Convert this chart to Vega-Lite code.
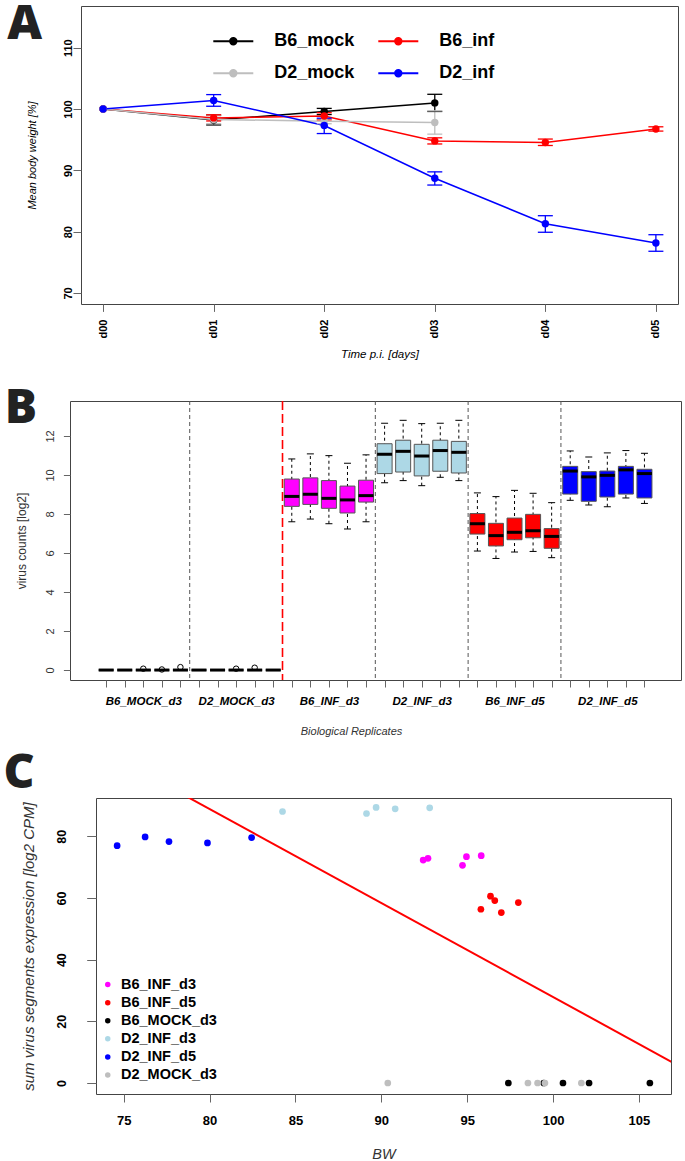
{
  "$schema": "https://vega.github.io/schema/vega-lite/v6.json",
  "padding": {"left": 0, "top": 0, "right": 0, "bottom": 0},
  "background": "white",
  "config": {
    "font": "Liberation Sans",
    "view": {"stroke": "#444", "strokeWidth": 1},
    "axis": {"grid": false, "domain": false, "tickColor": "#666", "labelColor": "#000", "titleColor": "#000", "titleFontWeight": "normal", "labelFont": "Liberation Sans", "titleFont": "Liberation Sans", "labelOverlap": false, "labelFlush": false},
    "axisQuantitative": {"labelOverlap": false},
    "title": {"font": "Open Sans", "fontSize": 48, "fontWeight": 800, "anchor": "start", "frame": "group", "color": "#222"},
    "legend": {"padding": 0, "offset": 0}
  },
  "spacing": 23,
  "resolve": {"scale": {"color": "independent", "fill": "independent"}, "legend": {"color": "independent", "fill": "independent"}},
  "vconcat": [
    {
      "spacing": 0,
      "resolve": {"scale": {"color": "independent"}, "legend": {"color": "independent"}},
      "hconcat": [
        {"width": 4, "height": 1, "data": {"values": []}, "mark": "point", "view": {"stroke": "transparent"}},
        {
          "width": 597,
          "height": 298,
          "title": {"text": "A", "dx": -73.7, "offset": -43.3},
          "data": {"values": [
            {"day": "d00", "group": "B6_mock", "w": 100},
            {"day": "d00", "group": "B6_inf", "w": 100},
            {"day": "d00", "group": "D2_mock", "w": 100},
            {"day": "d00", "group": "D2_inf", "w": 100},
            {"day": "d01", "group": "B6_mock", "w": 98.2, "lo": 97.4, "hi": 99.0},
            {"day": "d01", "group": "D2_mock", "w": 98.3, "lo": 97.6, "hi": 98.9},
            {"day": "d01", "group": "B6_inf", "w": 98.55, "lo": 98.05, "hi": 99.05},
            {"day": "d01", "group": "D2_inf", "w": 101.4, "lo": 100.45, "hi": 102.35},
            {"day": "d02", "group": "B6_mock", "w": 99.6, "lo": 99.1, "hi": 100.1},
            {"day": "d02", "group": "D2_mock", "w": 98.0, "lo": 97.6, "hi": 98.4},
            {"day": "d02", "group": "B6_inf", "w": 98.85, "lo": 98.25, "hi": 99.4},
            {"day": "d02", "group": "D2_inf", "w": 97.3, "lo": 96.0, "hi": 98.5},
            {"day": "d03", "group": "B6_mock", "w": 101.0, "lo": 99.6, "hi": 102.4},
            {"day": "d03", "group": "D2_mock", "w": 97.8, "lo": 95.9, "hi": 99.7},
            {"day": "d03", "group": "B6_inf", "w": 94.8, "lo": 94.3, "hi": 95.3},
            {"day": "d03", "group": "D2_inf", "w": 88.7, "lo": 87.6, "hi": 89.75},
            {"day": "d04", "group": "B6_inf", "w": 94.55, "lo": 94.05, "hi": 95.1},
            {"day": "d04", "group": "D2_inf", "w": 81.3, "lo": 79.9, "hi": 82.6},
            {"day": "d05", "group": "B6_inf", "w": 96.75, "lo": 96.4, "hi": 97.1},
            {"day": "d05", "group": "D2_inf", "w": 78.15, "lo": 76.8, "hi": 79.5}
          ]},
          "encoding": {
            "x": {"field": "day", "type": "ordinal", "scale": {"type": "point", "padding": 0.2},
              "axis": {"title": "Time p.i. [days]", "titleFontStyle": "italic", "titleFontSize": 11.5, "titleY": 50.7, "titleBaseline": "middle",
                "labelAngle": -90, "labelAlign": "right", "labelBaseline": "middle", "labelFontWeight": "bold", "labelFontSize": 11, "tickSize": 7.4, "labelPadding": 7.6}},
            "color": {"field": "group", "type": "nominal",
              "scale": {"domain": ["B6_mock", "B6_inf", "D2_mock", "D2_inf"], "range": ["#000000", "#FF0000", "#BEBEBE", "#0000FF"]},
              "legend": {"orient": "none", "legendX": 135.3, "legendY": 18.3, "columns": 2, "direction": "horizontal", "title": null,
                "symbolType": "M-1.25,0L1.25,0M-0.2,0A0.2,0.2,0,1,1,0.2,0A0.2,0.2,0,1,1,-0.2,0Z",
                "symbolSize": 1024, "symbolStrokeWidth": 2, "labelFont": "Liberation Sans", "labelFontSize": 18, "labelFontWeight": "bold",
                "labelOffset": 24, "columnPadding": 19, "rowPadding": 6, "labelLimit": 200,
                "encode": {"symbols": {"update": {
                  "fill": {"signal": "datum.value === 'B6_mock' ? '#000000' : datum.value === 'B6_inf' ? '#FF0000' : datum.value === 'D2_mock' ? '#BEBEBE' : '#0000FF'"},
                  "stroke": {"signal": "datum.value === 'B6_mock' ? '#000000' : datum.value === 'B6_inf' ? '#FF0000' : datum.value === 'D2_mock' ? '#BEBEBE' : '#0000FF'"},
                  "opacity": {"value": 1}}}}}
            }
          },
          "layer": [
            {"mark": {"type": "line", "strokeWidth": 1.5},
              "encoding": {"y": {"field": "w", "type": "quantitative", "title": "Mean body weight [%]",
                "scale": {"domain": [68.2, 116.8], "nice": false, "zero": false},
                "axis": {"values": [70, 80, 90, 100, 110], "labelAngle": -90, "labelAlign": "center", "labelBaseline": "alphabetic", "labelFontWeight": "bold", "labelFontSize": 11, "tickSize": 8, "labelPadding": 2,
                  "titleX": -48.4, "titleBaseline": "middle", "titleFontStyle": "italic", "titleFontSize": 11}}}},
            {"transform": [{"filter": "isValid(datum.lo)"}], "mark": {"type": "rule", "strokeWidth": 1.3},
              "encoding": {"y": {"field": "lo", "type": "quantitative", "title": "Mean body weight [%]"}, "y2": {"field": "hi"}}},
            {"transform": [{"filter": "isValid(datum.lo)"}], "mark": {"type": "tick", "orient": "horizontal", "size": 15, "thickness": 1.3, "opacity": 1},
              "encoding": {"y": {"field": "lo", "type": "quantitative", "title": "Mean body weight [%]"}}},
            {"transform": [{"filter": "isValid(datum.hi)"}], "mark": {"type": "tick", "orient": "horizontal", "size": 15, "thickness": 1.3, "opacity": 1},
              "encoding": {"y": {"field": "hi", "type": "quantitative", "title": "Mean body weight [%]"}}},
            {"mark": {"type": "point", "filled": true, "size": 55, "opacity": 1},
              "encoding": {"y": {"field": "w", "type": "quantitative", "title": "Mean body weight [%]"}}}
          ]
        }
      ]
    },
    {
      "spacing": 11,
      "resolve": {"scale": {"color": "independent", "fill": "independent"}, "legend": {"color": "independent", "fill": "independent"}},
      "vconcat": [
        {
          "spacing": 0,
          "hconcat": [
            {"width": 2, "height": 1, "data": {"values": []}, "mark": "point", "view": {"stroke": "transparent"}},
            {
              "width": 611,
              "height": 279,
              "title": {"text": "B", "dx": -65.3, "offset": -33},
              "encoding": {
                "x": {"field": "rep", "type": "quantitative", "scale": {"domain": [-0.68, 31.7], "nice": false, "zero": false},
                  "axis": {"values": [1,2,3,4,5,6,7,8,9,10,11,12,13,14,15,16,17,18,19,20,21,22,23,24,25,26,27,28,29,30],
                    "labelExpr": "datum.value == 3 ? 'B6_MOCK_d3' : datum.value == 8 ? 'D2_MOCK_d3' : datum.value == 13 ? 'B6_INF_d3' : datum.value == 18 ? 'D2_INF_d3' : datum.value == 23 ? 'B6_INF_d5' : datum.value == 28 ? 'D2_INF_d5' : ''",
                    "labelOverlap": false, "labelFlush": false, "labelBound": false,
                    "labelFontWeight": "bold", "labelFontStyle": "italic", "labelFontSize": 11.5, "labelBaseline": "top", "labelAngle": 0, "tickSize": 7, "labelPadding": 8.7,
                    "title": "Biological Replicates", "titleFontStyle": "italic", "titleFontSize": 11, "titleX": 281, "titleY": 51.7, "titleBaseline": "middle", "titleColor": "#333"}}
              },
              "layer": [
                {
                  "data": {"values": [
                    {"rep": 1, "group": "B6_MOCK_d3", "lo": 0, "q1": 0, "med": 0, "q3": 0, "hi": 0},
                    {"rep": 2, "group": "B6_MOCK_d3", "lo": 0, "q1": 0, "med": 0, "q3": 0, "hi": 0},
                    {"rep": 3, "group": "B6_MOCK_d3", "lo": 0, "q1": 0, "med": 0, "q3": 0, "hi": 0},
                    {"rep": 4, "group": "B6_MOCK_d3", "lo": 0, "q1": 0, "med": 0, "q3": 0, "hi": 0},
                    {"rep": 5, "group": "B6_MOCK_d3", "lo": 0, "q1": 0, "med": 0, "q3": 0, "hi": 0},
                    {"rep": 6, "group": "D2_MOCK_d3", "lo": 0, "q1": 0, "med": 0, "q3": 0, "hi": 0},
                    {"rep": 7, "group": "D2_MOCK_d3", "lo": 0, "q1": 0, "med": 0, "q3": 0, "hi": 0},
                    {"rep": 8, "group": "D2_MOCK_d3", "lo": 0, "q1": 0, "med": 0, "q3": 0, "hi": 0},
                    {"rep": 9, "group": "D2_MOCK_d3", "lo": 0, "q1": 0, "med": 0, "q3": 0, "hi": 0},
                    {"rep": 10, "group": "D2_MOCK_d3", "lo": 0, "q1": 0, "med": 0, "q3": 0, "hi": 0},
                    {"rep": 11, "group": "B6_INF_d3", "lo": 7.6, "q1": 8.39, "med": 8.9, "q3": 9.79, "hi": 10.82},
                    {"rep": 12, "group": "B6_INF_d3", "lo": 7.74, "q1": 8.49, "med": 9.01, "q3": 9.85, "hi": 11.08},
                    {"rep": 13, "group": "B6_INF_d3", "lo": 7.5, "q1": 8.29, "med": 8.8, "q3": 9.71, "hi": 10.99},
                    {"rep": 14, "group": "B6_INF_d3", "lo": 7.23, "q1": 8.05, "med": 8.72, "q3": 9.43, "hi": 10.6},
                    {"rep": 15, "group": "B6_INF_d3", "lo": 7.6, "q1": 8.61, "med": 8.94, "q3": 9.73, "hi": 11.03},
                    {"rep": 16, "group": "D2_INF_d3", "lo": 9.6, "q1": 10.07, "med": 11.06, "q3": 11.6, "hi": 12.65},
                    {"rep": 17, "group": "D2_INF_d3", "lo": 9.71, "q1": 10.15, "med": 11.21, "q3": 11.78, "hi": 12.8},
                    {"rep": 18, "group": "D2_INF_d3", "lo": 9.45, "q1": 9.95, "med": 10.97, "q3": 11.57, "hi": 12.63},
                    {"rep": 19, "group": "D2_INF_d3", "lo": 9.88, "q1": 10.19, "med": 11.25, "q3": 11.78, "hi": 12.65},
                    {"rep": 20, "group": "D2_INF_d3", "lo": 9.71, "q1": 10.1, "med": 11.16, "q3": 11.72, "hi": 12.8},
                    {"rep": 21, "group": "B6_INF_d5", "lo": 6.1, "q1": 6.97, "med": 7.5, "q3": 8.02, "hi": 9.08},
                    {"rep": 22, "group": "B6_INF_d5", "lo": 5.72, "q1": 6.36, "med": 6.89, "q3": 7.52, "hi": 8.89},
                    {"rep": 23, "group": "B6_INF_d5", "lo": 6.05, "q1": 6.68, "med": 7.06, "q3": 7.79, "hi": 9.21},
                    {"rep": 24, "group": "B6_INF_d5", "lo": 6.08, "q1": 6.78, "med": 7.14, "q3": 7.98, "hi": 9.06},
                    {"rep": 25, "group": "B6_INF_d5", "lo": 5.76, "q1": 6.24, "med": 6.85, "q3": 7.25, "hi": 8.58},
                    {"rep": 26, "group": "D2_INF_d5", "lo": 8.7, "q1": 9.02, "med": 10.2, "q3": 10.44, "hi": 11.23},
                    {"rep": 27, "group": "D2_INF_d5", "lo": 8.46, "q1": 8.65, "med": 9.9, "q3": 10.17, "hi": 10.92},
                    {"rep": 28, "group": "D2_INF_d5", "lo": 8.37, "q1": 8.87, "med": 9.98, "q3": 10.2, "hi": 11.13},
                    {"rep": 29, "group": "D2_INF_d5", "lo": 8.82, "q1": 9.02, "med": 10.26, "q3": 10.44, "hi": 11.25},
                    {"rep": 30, "group": "D2_INF_d5", "lo": 8.54, "q1": 8.82, "med": 10.07, "q3": 10.29, "hi": 11.11}
                  ]},
                  "layer": [
                    {"mark": {"type": "rule", "strokeDash": [3, 3], "strokeWidth": 1, "color": "#000"},
                      "encoding": {"y": {"field": "lo", "type": "quantitative", "title": "virus counts [log2]",
                        "scale": {"domain": [-0.51, 13.79], "nice": false, "zero": false},
                        "axis": {"values": [0, 2, 4, 6, 8, 10, 12], "labelAngle": -90, "labelAlign": "center", "labelBaseline": "alphabetic", "labelFontSize": 11, "labelColor": "#333", "tickSize": 6.6, "labelPadding": 10,
                          "titleX": -48.3, "titleBaseline": "middle", "titleFontSize": 12, "titleColor": "#333"}},
                        "y2": {"field": "hi"}}},
                    {"mark": {"type": "tick", "orient": "horizontal", "size": 7, "thickness": 1, "color": "#000", "opacity": 1},
                      "encoding": {"y": {"field": "lo", "type": "quantitative", "title": "virus counts [log2]"}}},
                    {"mark": {"type": "tick", "orient": "horizontal", "size": 7, "thickness": 1, "color": "#000", "opacity": 1},
                      "encoding": {"y": {"field": "hi", "type": "quantitative", "title": "virus counts [log2]"}}},
                    {"mark": {"type": "bar", "size": 15, "stroke": "#555", "strokeWidth": 1, "opacity": 1},
                      "encoding": {"y": {"field": "q1", "type": "quantitative", "title": "virus counts [log2]"}, "y2": {"field": "q3"},
                        "fill": {"field": "group", "type": "nominal", "legend": null,
                          "scale": {"domain": ["B6_MOCK_d3", "D2_MOCK_d3", "B6_INF_d3", "D2_INF_d3", "B6_INF_d5", "D2_INF_d5"], "range": ["#000000", "#000000", "#FF00FF", "#ADD8E6", "#FF0000", "#0000FF"]}}}},
                    {"mark": {"type": "tick", "orient": "horizontal", "size": 15, "thickness": 3, "color": "#000", "opacity": 1},
                      "encoding": {"y": {"field": "med", "type": "quantitative", "title": "virus counts [log2]"}}}
                  ]
                },
                {
                  "data": {"values": [
                    {"rep": 3, "v": 0.07}, {"rep": 4, "v": 0.03}, {"rep": 5, "v": 0.15}, {"rep": 8, "v": 0.07}, {"rep": 9, "v": 0.12}
                  ]},
                  "mark": {"type": "point", "shape": "circle", "filled": false, "size": 30, "color": "#000", "strokeWidth": 1, "opacity": 1},
                  "encoding": {"y": {"field": "v", "type": "quantitative", "title": "virus counts [log2]"}}
                },
                {
                  "data": {"values": [{"rep": 5.5}, {"rep": 15.5}, {"rep": 20.5}, {"rep": 25.5}]},
                  "mark": {"type": "rule", "strokeDash": [4, 3], "strokeWidth": 1, "color": "#555"},
                  "encoding": {}
                },
                {
                  "data": {"values": [{"rep": 10.5}]},
                  "mark": {"type": "rule", "strokeDash": [9, 4], "strokeWidth": 1.6, "color": "#FF0000"},
                  "encoding": {}
                }
              ]
            }
          ]
        },
        {
          "spacing": 0,
          "resolve": {"scale": {"color": "independent"}, "legend": {"color": "independent"}},
          "hconcat": [
            {"width": 1, "height": 1, "data": {"values": []}, "mark": "point", "view": {"stroke": "transparent"}},
            {
              "width": 575,
              "height": 296,
              "title": {"text": "C", "dx": -92.5, "offset": 0},
              "data": {"values": [
                {"group": "B6_INF_d3", "BW": 92.44, "expr": 72.29},
                {"group": "B6_INF_d3", "BW": 92.72, "expr": 72.84},
                {"group": "B6_INF_d3", "BW": 94.73, "expr": 70.56},
                {"group": "B6_INF_d3", "BW": 94.96, "expr": 73.38},
                {"group": "B6_INF_d3", "BW": 95.82, "expr": 73.71},
                {"group": "B6_INF_d5", "BW": 95.80, "expr": 56.34},
                {"group": "B6_INF_d5", "BW": 96.36, "expr": 60.57},
                {"group": "B6_INF_d5", "BW": 96.61, "expr": 59.16},
                {"group": "B6_INF_d5", "BW": 96.99, "expr": 55.25},
                {"group": "B6_INF_d5", "BW": 97.98, "expr": 58.51},
                {"group": "B6_MOCK_d3", "BW": 97.40, "expr": 0},
                {"group": "B6_MOCK_d3", "BW": 99.46, "expr": 0},
                {"group": "B6_MOCK_d3", "BW": 100.58, "expr": 0},
                {"group": "B6_MOCK_d3", "BW": 102.10, "expr": 0},
                {"group": "B6_MOCK_d3", "BW": 105.64, "expr": 0},
                {"group": "D2_INF_d3", "BW": 84.25, "expr": 88.03},
                {"group": "D2_INF_d3", "BW": 89.14, "expr": 87.38},
                {"group": "D2_INF_d3", "BW": 89.70, "expr": 89.34},
                {"group": "D2_INF_d3", "BW": 90.81, "expr": 88.9},
                {"group": "D2_INF_d3", "BW": 92.82, "expr": 89.23},
                {"group": "D2_INF_d5", "BW": 74.62, "expr": 76.96},
                {"group": "D2_INF_d5", "BW": 76.25, "expr": 79.78},
                {"group": "D2_INF_d5", "BW": 77.64, "expr": 78.26},
                {"group": "D2_INF_d5", "BW": 79.88, "expr": 77.83},
                {"group": "D2_INF_d5", "BW": 82.45, "expr": 79.56},
                {"group": "D2_MOCK_d3", "BW": 90.38, "expr": 0},
                {"group": "D2_MOCK_d3", "BW": 98.54, "expr": 0},
                {"group": "D2_MOCK_d3", "BW": 99.10, "expr": 0},
                {"group": "D2_MOCK_d3", "BW": 99.53, "expr": 0},
                {"group": "D2_MOCK_d3", "BW": 101.65, "expr": 0}
              ]},
              "encoding": {
                "x": {"field": "BW", "type": "quantitative", "scale": {"domain": [73.39, 106.87], "nice": false, "zero": false},
                  "axis": {"values": [75, 80, 85, 90, 95, 100, 105], "labelFontWeight": "bold", "labelFontSize": 13, "labelBaseline": "top", "tickSize": 8, "labelPadding": 12.7,
                    "title": "BW", "titleFontStyle": "italic", "titleFontSize": 14.5, "titleY": 60.5, "titleBaseline": "middle", "titleColor": "#333"}},
                "y": {"field": "expr", "type": "quantitative", "title": "sum virus segments expression [log2 CPM]",
                  "scale": {"domain": [-3.56, 92.4], "nice": false, "zero": false},
                  "axis": {"values": [0, 20, 40, 60, 80], "labelAngle": -90, "labelAlign": "center", "labelBaseline": "alphabetic", "labelFontWeight": "bold", "labelFontSize": 12.5, "tickSize": 9.3, "labelPadding": 21,
                    "titleX": -67.7, "titleBaseline": "middle", "titleFontStyle": "italic", "titleFontSize": 15, "titleColor": "#333"}}
              },
              "layer": [
                {"mark": {"type": "point", "filled": true, "size": 45, "opacity": 1},
                  "encoding": {"color": {"field": "group", "type": "nominal",
                    "scale": {"domain": ["B6_INF_d3", "B6_INF_d5", "B6_MOCK_d3", "D2_INF_d3", "D2_INF_d5", "D2_MOCK_d3"], "range": ["#FF00FF", "#FF0000", "#000000", "#ADD8E6", "#0000FF", "#BEBEBE"]},
                    "legend": {"orient": "none", "legendX": 4.5, "legendY": 179.3, "title": null, "symbolType": "circle", "symbolSize": 30, "labelFont": "Liberation Sans", "labelFontSize": 14.5, "labelFontWeight": "bold", "labelOffset": 6, "rowPadding": 3.1, "labelLimit": 200}}}},
                {"transform": [{"regression": "expr", "on": "BW", "extent": [70, 110]}],
                  "mark": {"type": "line", "color": "#FF0000", "strokeWidth": 2, "clip": true},
                  "encoding": {}}
              ]
            }
          ]
        }
      ]
    }
  ]
}
